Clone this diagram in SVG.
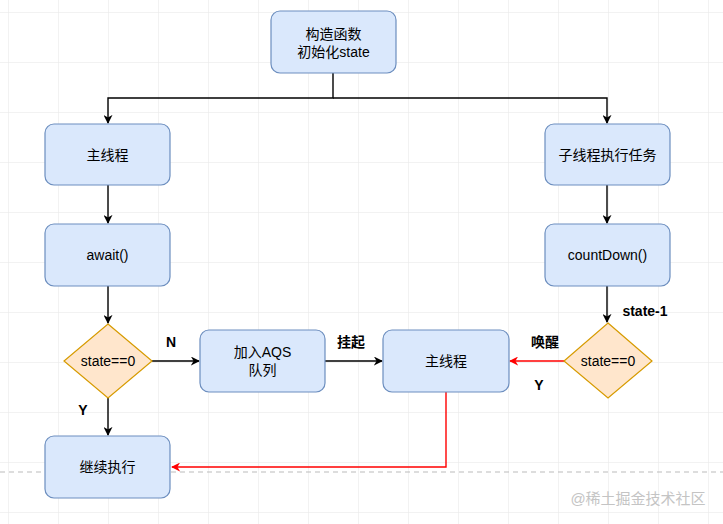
<svg xmlns="http://www.w3.org/2000/svg" width="723" height="524" viewBox="0 0 723 524">
<defs>
<pattern id="grid" x="8" y="12" width="50" height="50" patternUnits="userSpaceOnUse">
<path d="M0 0H50M0 0V50" fill="none" stroke="#e6e6e6" stroke-width="1"/>
</pattern>
<marker id="ab" viewBox="0 0 10 10" refX="9" refY="5" markerWidth="9" markerHeight="9" markerUnits="userSpaceOnUse" orient="auto">
<path d="M0 0L10 5L0 10L3 5Z" fill="#000"/>
</marker>
<marker id="ar" viewBox="0 0 10 10" refX="9" refY="5" markerWidth="9" markerHeight="9" markerUnits="userSpaceOnUse" orient="auto">
<path d="M0 0L10 5L0 10L3 5Z" fill="#ff0000"/>
</marker>
</defs>
<style>
.box{fill:#dae8fc;stroke:#6c8ebf;stroke-width:1.2}
.dia{fill:#ffe6cc;stroke:#d79b00;stroke-width:1.2}
.t{font-family:"Liberation Sans","Noto Sans CJK SC",sans-serif;font-size:14px;fill:#000;text-anchor:middle;dominant-baseline:central}
.lb{font-family:"Liberation Sans","Noto Sans CJK SC",sans-serif;font-size:14px;font-weight:bold;fill:#000;text-anchor:middle;dominant-baseline:central}
.k{fill:none;stroke:#000;stroke-width:1.4}
.r{fill:none;stroke:#ff0000;stroke-width:1.4}
</style>
<rect width="723" height="524" fill="#fff"/>
<rect width="723" height="524" fill="url(#grid)"/>
<line x1="0" y1="472" x2="723" y2="472" stroke="#bbb" stroke-width="1" stroke-dasharray="5,4"/>
<g id="connectors">
<path class="k" d="M333 73V98H108V123" marker-end="url(#ab)"/>
<path class="k" d="M333 98H607V123" marker-end="url(#ab)"/>
<path class="k" d="M108 185V223" marker-end="url(#ab)"/>
<path class="k" d="M108 286V323" marker-end="url(#ab)"/>
<path class="k" d="M108 398V435" marker-end="url(#ab)"/>
<path class="k" d="M152 361H199" marker-end="url(#ab)"/>
<path class="k" d="M325 361H382" marker-end="url(#ab)"/>
<path class="k" d="M607 185V223" marker-end="url(#ab)"/>
<path class="k" d="M607 286V322" marker-end="url(#ab)"/>
<path class="r" d="M564 361H510" marker-end="url(#ar)"/>
<path class="r" d="M446 392V467H172" marker-end="url(#ar)"/>
<text class="lb" x="171" y="342">N</text>
<text class="lb" x="83" y="410">Y</text>
<text class="lb" x="351" y="342">挂起</text>
<text class="lb" x="545" y="342">唤醒</text>
<text class="lb" x="539" y="385">Y</text>
<text class="lb" x="645" y="311">state-1</text>
</g>
<g id="init"><rect class="box" x="271" y="11" width="125" height="62" rx="9"/><text class="t" x="333.5" y="34">构造函数</text><text class="t" x="333.5" y="52">初始化state</text></g>
<g id="main1"><rect class="box" x="45" y="124" width="125" height="61" rx="9"/><text class="t" x="107.5" y="155">主线程</text></g>
<g id="sub"><rect class="box" x="545" y="124" width="125" height="61" rx="9"/><text class="t" x="607.5" y="155">子线程执行任务</text></g>
<g id="await"><rect class="box" x="45" y="224" width="125" height="62" rx="9"/><text class="t" x="107.5" y="255">await()</text></g>
<g id="countdown"><rect class="box" x="545" y="224" width="125" height="62" rx="9"/><text class="t" x="607.5" y="255">countDown()</text></g>
<g id="dia1"><path class="dia" d="M108 324L152 361L108 398L64 361Z"/><text class="t" x="108" y="361">state==0</text></g>
<g id="aqs"><rect class="box" x="200" y="330" width="125" height="62" rx="9"/><text class="t" x="262.5" y="352">加入AQS</text><text class="t" x="262.5" y="370">队列</text></g>
<g id="main2"><rect class="box" x="383" y="330" width="126" height="62" rx="9"/><text class="t" x="446" y="361">主线程</text></g>
<g id="dia2"><path class="dia" d="M608 323L652 361L608 398L564 361Z"/><text class="t" x="608" y="361">state==0</text></g>
<g id="cont"><rect class="box" x="45" y="436" width="125" height="62" rx="9"/><text class="t" x="107.5" y="467">继续执行</text></g>
<text x="638" y="498" font-family="Liberation Sans,Noto Sans CJK SC,sans-serif" font-size="15" fill="#c4c4c4" text-anchor="middle" dominant-baseline="central">@稀土掘金技术社区</text>
</svg>
